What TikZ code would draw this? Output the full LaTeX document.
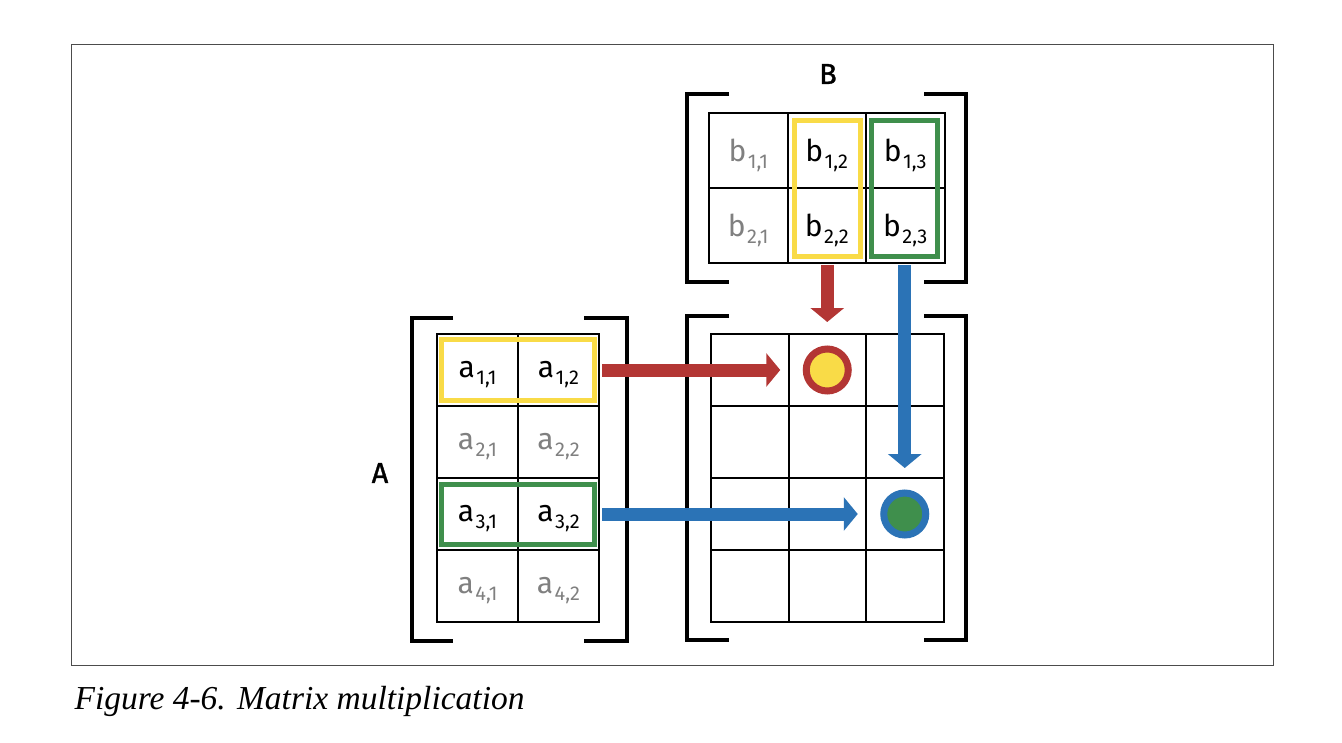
\documentclass[tikz,border=0pt]{standalone}
\usepackage{fontspec}
\setmainfont{Fira Sans}
\newfontfamily\capfont{Liberation Serif}
\newfontfamily\labfont[FakeBold=1.2]{Fira Sans}
\usetikzlibrary{arrows.meta}

\definecolor{hlred}{HTML}{B33634}
\definecolor{hlyellow}{HTML}{F9DB47}
\definecolor{hlgreen}{HTML}{3F8F4C}
\definecolor{hlblue}{HTML}{2B73B6}
\definecolor{fadedtext}{HTML}{808080}

\newcommand{\idx}[1]{\kern1.5pt\raisebox{-7pt}[0pt][0pt]{\fontsize{20}{24}\selectfont #1}}

\tikzset{
  cell/.style={draw, line width=2pt, inner sep=0pt, minimum height=72pt, font=\fontsize{30}{36}\selectfont},
  acell/.style={cell, minimum width=81pt},
  bcell/.style={cell, minimum width=78.5pt, minimum height=75pt},
  ccell/.style={cell, minimum width=77.5pt},
  faded/.style={text=fadedtext},
  bracket/.style={line width=3.5pt},
  hlbox/.style={draw=#1, line width=5pt, inner sep=0pt},
  bigarrow/.style={draw=#1, line width=13pt, -{Triangle[width=33pt, length=14pt, #1]}},
  dot/.style 2 args={circle, draw=#1, fill=#2, line width=7pt, minimum size=42pt, inner sep=0pt},
  mname/.style={font=\labfont\fontsize{29}{34}\selectfont}
}

\begin{document}
\begin{tikzpicture}[x=1pt, y=-1pt]
    \useasboundingbox (0,0) rectangle (1342,742);
    \draw[line width=1pt, black!70] (71,44) rectangle (1273,665);

    % matrix A
    \foreach \r in {1,3}
        \foreach \c in {1,2}
            \node[acell] (a\r\c) at ({396.5+81*\c}, {298+72*\r}) {a\idx{\r,\c}};
    \foreach \r in {2,4}
        \foreach \c in {1,2}
            \node[acell, faded] (a\r\c) at ({396.5+81*\c}, {298+72*\r}) {a\idx{\r,\c}};
    \draw[bracket] (453,318) -- (412,318) -- (412,641) -- (453,641);
    \draw[bracket] (584,318) -- (627,318) -- (627,641) -- (584,641);
    \node[mname] (labA) at (380,473) {A};

    % matrix B
    \foreach \r in {1,2} {
        \node[bcell, faded] (b\r1) at (748.25, {75.5+75*\r}) {b\idx{\r,1}};
        \foreach \c in {2,3}
            \node[bcell] (b\r\c) at ({669.75+78.5*\c}, {75.5+75*\r}) {b\idx{\r,\c}};
    }
    \draw[bracket] (729,94) -- (687,94) -- (687,282) -- (729,282);
    \draw[bracket] (924,94) -- (966,94) -- (966,282) -- (924,282);
    \node[mname] (labB) at (828,74) {B};

    % result
    \foreach \r in {1,...,4}
        \foreach \c in {1,2,3}
            \node[ccell] (c\r\c) at ({672.25+77.5*\c}, {298+72*\r}) {};
    \draw[bracket] (729,316) -- (687,316) -- (687,640) -- (729,640);
    \draw[bracket] (924,316) -- (966,316) -- (966,640) -- (924,640);

    % rows and columns used
    \node[hlbox=hlyellow, minimum width=153pt, minimum height=61pt] (rowA1) at (518,370) {};
    \node[hlbox=hlgreen, minimum width=153pt, minimum height=60pt] (rowA3) at (518,514) {};
    \node[hlbox=hlyellow, minimum width=66pt, minimum height=136pt] (colB2) at (827.25,188.5) {};
    \node[hlbox=hlgreen, minimum width=66pt, minimum height=136pt] (colB3) at (904.75,188.5) {};

    \node[dot={hlred}{hlyellow}] (dotY) at (c12) {};
    \node[dot={hlblue}{hlgreen}] (dotG) at (c33) {};

    \draw[bigarrow=hlred, shorten <=5pt, shorten >=22.5pt] (rowA1.east) -- (dotY.west);
    \draw[bigarrow=hlred, shorten <=6pt, shorten >=23.5pt] (colB2.south) -- (dotY.north);
    \draw[bigarrow=hlblue, shorten <=6pt, shorten >=21.5pt] (colB3.south) -- (dotG.north);
    \draw[bigarrow=hlblue, shorten <=5pt, shorten >=22.5pt] (rowA3.east) -- (dotG.west);

    \node[anchor=base west, font=\capfont\itshape\fontsize{33.5}{40}\selectfont] (caption) at (71,709) {Figure 4-6. Matrix multiplication};
\end{tikzpicture}
\end{document}
